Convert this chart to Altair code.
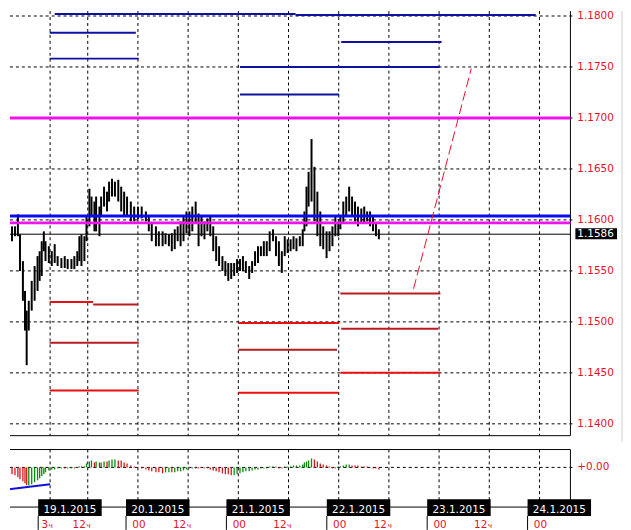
import altair as alt
import pandas as pd

# ---- data (time in hours relative to 20.1.2015 00:00) ----
bar_t = [-32.5, -31.8, -31.3, -30.8, -30.1, -29.4, -28.7, -28.2, -27.5, -27.0,
         -26.6, -26.1, -25.4, -24.7, -24.0, -23.5, -23.0, -22.5, -22.1, -21.3,
         -20.6, -19.9, -19.2, -18.3, -17.5, -16.8, -15.9, -15.2, -14.5, -14.0,
         -13.5, -12.8, -12.3, -11.6, -11.1, -10.4, -10.0, -9.2, -8.8, -8.1,
         -7.4, -6.9, -6.2, -5.5, -4.7, -4.0, -3.3, -2.6, -1.7, -0.9,
         0.0, 0.9, 1.9, 2.6, 3.3, 4.3, 5.0, 5.9, 6.6, 7.4,
         8.1, 8.8, 9.5, 10.2, 10.9, 11.6, 12.3, 13.0, 13.8, 14.5,
         15.2, 15.9, 16.6, 17.3, 18.0, 18.7, 19.4, 20.2, 20.9, 21.6,
         22.3, 23.0, 23.7, 24.4, 25.1, 25.8, 26.6, 27.3, 28.0, 28.7,
         29.4, 30.1, 30.8, 31.5, 32.3, 33.0, 33.7, 34.4, 35.1, 35.8,
         36.5, 37.2, 37.9, 38.7, 39.4, 39.8, 40.3, 40.8, 41.5, 42.2,
         42.9, 43.6, 44.3, 45.1, 45.8, 46.5, 47.2, 47.9, 48.4, 49.1,
         49.8, 50.5, 51.2, 51.9, 52.6, 53.4, 54.1, 54.8, 55.5, 56.2,
         56.9, 57.6]
bar_hi = [1.16375, 1.16355, 1.16326, 1.16180, 1.15937, 1.15937, 1.16054, 1.15859, 1.15596, 1.15304,
          1.15110, 1.15207, 1.15402, 1.15548, 1.15645, 1.15693, 1.15791, 1.15888, 1.15791, 1.15742,
          1.15693, 1.15762, 1.15645, 1.15625, 1.15645, 1.15616, 1.15616, 1.15645, 1.15693, 1.15840,
          1.15859, 1.15840, 1.16034, 1.16306, 1.16229, 1.16180, 1.16229, 1.16131, 1.16229, 1.16326,
          1.16277, 1.16375, 1.16404, 1.16375, 1.16394, 1.16326, 1.16277, 1.16229, 1.16180, 1.16131,
          1.16131, 1.16131, 1.16083, 1.16034, 1.15966, 1.15937, 1.15888, 1.15888, 1.15869, 1.15859,
          1.15869, 1.15908, 1.15937, 1.15985, 1.16034, 1.16083, 1.16083, 1.16131, 1.16180, 1.16063,
          1.16034, 1.15985, 1.16015, 1.16034, 1.15937, 1.15840, 1.15742, 1.15645, 1.15596, 1.15577,
          1.15577, 1.15577, 1.15616, 1.15616, 1.15645, 1.15596, 1.15548, 1.15596, 1.15693, 1.15742,
          1.15742, 1.15791, 1.15791, 1.15888, 1.15908, 1.15840, 1.15791, 1.15693, 1.15840, 1.15810,
          1.15810, 1.15840, 1.15820, 1.15840, 1.15908, 1.16083, 1.16326, 1.16472, 1.16793, 1.16521,
          1.16277, 1.16083, 1.15937, 1.15888, 1.15888, 1.15937, 1.16034, 1.15966, 1.16034, 1.16180,
          1.16229, 1.16326, 1.16229, 1.16180, 1.16131, 1.16112, 1.16131, 1.16083, 1.16083, 1.16034,
          1.15966, 1.15908]
bar_lo = [1.16151, 1.16083, 1.16034, 1.15791, 1.15791, 1.15840, 1.15840, 1.15499, 1.15207, 1.14915,
          1.14575, 1.14915, 1.15110, 1.15207, 1.15304, 1.15402, 1.15450, 1.15693, 1.15596, 1.15577,
          1.15548, 1.15577, 1.15548, 1.15528, 1.15528, 1.15518, 1.15518, 1.15518, 1.15548, 1.15596,
          1.15548, 1.15596, 1.15791, 1.15937, 1.16034, 1.15888, 1.15888, 1.15840, 1.16034, 1.16131,
          1.16083, 1.16180, 1.16229, 1.16229, 1.16180, 1.16083, 1.16034, 1.16034, 1.15985, 1.15985,
          1.16005, 1.16015, 1.15985, 1.15888, 1.15791, 1.15742, 1.15742, 1.15742, 1.15762, 1.15742,
          1.15693, 1.15713, 1.15791, 1.15742, 1.15791, 1.15869, 1.15840, 1.15888, 1.15966, 1.15742,
          1.15840, 1.15810, 1.15888, 1.15840, 1.15693, 1.15596, 1.15548, 1.15499, 1.15450, 1.15402,
          1.15421, 1.15450, 1.15480, 1.15499, 1.15499, 1.15480, 1.15421, 1.15480, 1.15548, 1.15577,
          1.15645, 1.15645, 1.15645, 1.15693, 1.15791, 1.15645, 1.15548, 1.15480, 1.15645, 1.15674,
          1.15693, 1.15713, 1.15693, 1.15742, 1.15742, 1.15888, 1.15937, 1.16131, 1.16180, 1.15985,
          1.15840, 1.15742, 1.15713, 1.15625, 1.15693, 1.15742, 1.15840, 1.15840, 1.15908, 1.15966,
          1.16034, 1.16083, 1.16034, 1.15985, 1.15937, 1.15966, 1.15966, 1.15985, 1.15937, 1.15888,
          1.15840, 1.15810]
macd_hist = [-3, -4, -5, -6, -7, -8, -10, -12, -14, -16,
             -18, -18, -17, -15, -13, -11, -9, -7, -5, -3,
             -2, -2, -1, -1, -1, -1, -1, -1, 0.5, 1,
             1, 1, 4, 6, 7, 5, 6, 5, 5, 6,
             6, 7, 8, 8, 7, 7, 5, 4, 2, 1,
             0.5, -1, -2, -3, -4, -5, -5, -6, -5, -5,
             -5, -5, -4, -4, -3, -2, -1, -1, -1, -1,
             -0.5, -1, -1, -2, -3, -4, -5, -6, -7, -7,
             -8, -8, -7, -6, -5, -4, -4, -3, -2, -2,
             -1, -1, -1, 1, 1, 1, -1, -1, 1, 1,
             1, 2, 2, 2, 3, 5, 6, 7, 9, 8,
             6, 4, 3, 2, 1, -1, -1, 1, 1, 2,
             3, 3, 2, 2, 2, 1, 1, 1, 0.5, -1,
             -1, -2]
macd_rising = [0, 0, 0, 0, 0, 0, 0, 0, 0, 0,
               0, 1, 1, 1, 1, 1, 1, 1, 1, 1,
               1, 1, 1, 1, 0, 1, 1, 0, 1, 1,
               1, 1, 1, 1, 1, 0, 1, 0, 1, 1,
               0, 1, 1, 1, 0, 0, 0, 0, 0, 0,
               0, 0, 0, 0, 0, 0, 0, 0, 1, 1,
               0, 1, 1, 1, 1, 1, 1, 1, 0, 0,
               0, 0, 0, 0, 0, 0, 0, 0, 0, 0,
               0, 1, 1, 1, 1, 1, 1, 1, 1, 1,
               1, 1, 1, 1, 1, 0, 0, 0, 1, 1,
               1, 1, 1, 1, 1, 1, 1, 1, 1, 0,
               0, 0, 0, 0, 0, 0, 0, 1, 1, 1,
               1, 1, 0, 0, 0, 0, 0, 0, 0, 0,
               0, 0]
sig_t = [-32.5, -21.0]
sig_v = [-23, -17]

full_p = [1.17000, 1.15971, 1.16039]
full_kind = ["magenta", "magenta", "blue"]

seg_t0 = [-19.9, 37.7, -21.1, -21.1, 24.4, 24.4, 48.6,
          -21.1, -10.7, -21.1, -21.1, 24.0, 24.0, 24.0, 48.4, 48.6, 48.4]
seg_t1 = [37.7, 95.1, -0.5, 0.2, 72.1, 48.1, 72.6,
          -10.7, 0.0, 0.2, 0.2, 48.1, 47.6, 47.9, 72.3, 71.8, 72.3]
seg_p = [1.18019, 1.18010, 1.17835, 1.17582, 1.17500, 1.17231, 1.17746,
         1.15195, 1.15170, 1.14796, 1.14328, 1.14990, 1.14727, 1.14305, 1.15279, 1.14932, 1.14500]
seg_kind = ["navy"] * 7 + ["red", "darkred", "darkred", "red", "red", "darkred", "red",
                           "darkred", "darkred", "red"]

trend_t = [65.9, 79.7]
trend_p = [1.15325, 1.17484]
last_price = 1.1586

grid_t = [-21, -12, 0, 12, 24, 36, 48, 60, 72, 84, 96]
price_ticks = [1.140, 1.145, 1.150, 1.155, 1.160, 1.165, 1.170, 1.175, 1.180]
date_t = [-21, 0, 24, 48, 72, 96]
date_lab = ["19.1.2015", "20.1.2015", "21.1.2015", "22.1.2015", "23.1.2015", "24.1.2015"]
hour_num = ["3", "12", "00", "12", "00", "12", "00", "12", "00", "12", "00"]
hour_suf = ["ч", "ч", "", "ч", "", "ч", "", "ч", "", "ч", ""]

# ---- styles ----
FONT = "DejaVu Sans"
RED = "#e8102a"
W = 565
H = 428
SH = 58
T0 = -30.59
xs = alt.Scale(domain=[T0, 103.4], nice=False, zero=False)
ys = alt.Scale(domain=[1.13884, 1.18048], nice=False, zero=False)
ss = alt.Scale(domain=[-40, 18], nice=False, zero=False)

bars = pd.DataFrame({"t": bar_t, "hi": bar_hi, "lo": bar_lo})
hist = pd.DataFrame({"t": bar_t, "v": macd_hist, "rise": macd_rising})
sig = pd.DataFrame({"t": sig_t, "v": sig_v})
full = pd.DataFrame({"p": full_p, "kind": full_kind})
segs = pd.DataFrame({"t0": seg_t0, "t1": seg_t1, "p": seg_p, "kind": seg_kind})
trend = pd.DataFrame({"t": trend_t, "p": trend_p})
last = pd.DataFrame({"p": [last_price], "lab": [f"{last_price:.4f}"]})
dates = pd.DataFrame({"t": date_t, "lab": date_lab})
hours = pd.DataFrame({"t": grid_t, "num": hour_num, "suf": hour_suf})
vgrid = pd.DataFrame({"t": grid_t})
hgrid = pd.DataFrame({"p": price_ticks, "lab": [f"{p:.4f}" for p in price_ticks]})
zero = pd.DataFrame({"v": [0], "lab": ["+0.00"]})

X = lambda f: alt.X(f, scale=xs, axis=None)
Y = lambda f: alt.Y(f, scale=ys, axis=None)
S = lambda f: alt.Y(f, scale=ss, axis=None)

kind_scale = alt.Scale(domain=["navy", "red", "darkred", "magenta", "blue"],
                       range=["#1010a0", "#e81010", "#b81c22", "#f010f0", "#0a0af0"])

# ---- main price panel ----
vg = alt.Chart(vgrid).mark_rule(color="black", strokeDash=[3, 3], strokeWidth=1).encode(
    x=X("t:Q"))
hg = alt.Chart(hgrid).mark_rule(color="black", strokeDash=[3, 3], strokeWidth=1).encode(
    y=Y("p:Q"), x=alt.value(0), x2=alt.value(W + 4))
hlab = alt.Chart(hgrid).mark_text(color=RED, font=FONT, fontSize=10.5, align="left",
                                  baseline="middle").encode(
    y=Y("p:Q"), x=alt.value(W + 7), text="lab:N")
border_r = alt.Chart(last).mark_rule(color="black").encode(
    x=alt.value(W), y=alt.value(0), y2=alt.value(H))
border_b = alt.Chart(last).mark_rule(color="black").encode(
    y=alt.value(H), x=alt.value(0), x2=alt.value(W))

candles = alt.Chart(bars).transform_filter(f"datum.t >= {T0}").mark_rule(
    strokeWidth=2, color="black").encode(x=X("t:Q"), y=Y("hi:Q"), y2="lo:Q")
seg_layer = alt.Chart(segs).mark_rule(strokeWidth=2).encode(
    x=X("t0:Q"), x2="t1:Q", y=Y("p:Q"),
    color=alt.Color("kind:N", scale=kind_scale, legend=None))
full_layer = alt.Chart(full).mark_rule(strokeWidth=3).encode(
    y=Y("p:Q"), x=alt.value(0), x2=alt.value(W),
    color=alt.Color("kind:N", scale=kind_scale, legend=None))
last_line = alt.Chart(last).mark_rule(strokeWidth=1, color="black").encode(
    y=Y("p:Q"), x=alt.value(0), x2=alt.value(W))
trend_layer = alt.Chart(trend).mark_line(color=RED, strokeWidth=1,
                                         strokeDash=[10, 4]).encode(x=X("t:Q"), y=Y("p:Q"))
last_box = alt.Chart(last).mark_rect(color="black", yOffset=-6, y2Offset=5).encode(
    x=alt.value(W + 5), x2=alt.value(W + 47), y=Y("p:Q"), y2="p:Q")
last_txt = alt.Chart(last).mark_text(color="white", font=FONT, fontSize=10.5,
                                     align="left", baseline="middle").encode(
    x=alt.value(W + 7), y=Y("p:Q"), text="lab:N")
edge = alt.Chart(last).mark_rule(color="#cfcfcf").encode(
    x=alt.value(W + 52), y=alt.value(0), y2=alt.value(H + 6))

main = alt.layer(vg, hg, border_r, border_b, hlab, candles, seg_layer, full_layer,
                 last_line, trend_layer, last_box, last_txt, edge).properties(width=W, height=H)

# ---- indicator sub-panel ----
svg_ = alt.Chart(vgrid).mark_rule(color="black", strokeDash=[3, 3]).encode(
    x=X("t:Q"), y=alt.value(0), y2=alt.value(SH))
zline = alt.Chart(zero).mark_rule(color="black", strokeDash=[3, 3]).encode(
    y=S("v:Q"), x=alt.value(0), x2=alt.value(W + 4))
zlab = alt.Chart(zero).mark_text(color=RED, font=FONT, fontSize=10.5, align="left",
                                 baseline="middle").encode(
    y=S("v:Q"), x=alt.value(W + 7), text="lab:N")
s_top = alt.Chart(zero).mark_rule(color="black").encode(
    y=alt.value(0), x=alt.value(0), x2=alt.value(W))
s_bot = alt.Chart(zero).mark_rule(color="black").encode(
    y=alt.value(SH), x=alt.value(0), x2=alt.value(W))
s_right = alt.Chart(zero).mark_rule(color="black").encode(
    x=alt.value(W), y=alt.value(0), y2=alt.value(SH))

hist_up = alt.Chart(hist).transform_filter(f"datum.rise == 1 && datum.t >= {T0}").mark_rule(
    strokeWidth=1.3, color="#0a8a0a").encode(x=X("t:Q"), y=S("v:Q"), y2=alt.datum(0))
hist_dn = alt.Chart(hist).transform_filter(f"datum.rise == 0 && datum.t >= {T0}").mark_rule(
    strokeWidth=1.3, color="#d01818").encode(x=X("t:Q"), y=S("v:Q"), y2=alt.datum(0))
sig_layer = alt.Chart(sig).mark_line(color="#1010e0", strokeWidth=2, clip=True).encode(
    x=X("t:Q"), y=S("v:Q"))
date_box = alt.Chart(dates).mark_rect(color="black", xOffset=-12, x2Offset=52).encode(
    x=X("t:Q"), x2="t:Q", y=alt.value(50), y2=alt.value(67))
date_tick = alt.Chart(dates).mark_rule(color="black", xOffset=-12).encode(
    x=X("t:Q"), y=alt.value(67), y2=alt.value(81))
date_txt = alt.Chart(dates).mark_text(color="white", font=FONT, fontSize=10.5,
                                      align="center", baseline="alphabetic", dx=20).encode(
    x=X("t:Q"), y=alt.value(63.5), text="lab:N")
hour_a = alt.Chart(hours).transform_filter("datum.suf != ''").mark_text(
    color=RED, font=FONT, fontSize=10.5, align="right", baseline="alphabetic", dx=-2).encode(
    x=X("t:Q"), y=alt.value(79), text="num:N")
hour_s = alt.Chart(hours).transform_filter("datum.suf != ''").mark_text(
    color=RED, font=FONT, fontSize=7.5, align="left", baseline="alphabetic", dx=-1.5).encode(
    x=X("t:Q"), y=alt.value(79), text="suf:N")
hour_b = alt.Chart(hours).transform_filter("datum.suf == ''").mark_text(
    color=RED, font=FONT, fontSize=10.5, align="center", baseline="alphabetic", dx=1).encode(
    x=X("t:Q"), y=alt.value(79), text="num:N")

sub = alt.layer(svg_, zline, zlab, s_top, s_bot, s_right, hist_up, hist_dn, sig_layer,
                date_box, date_tick, date_txt, hour_a, hour_s, hour_b
                ).properties(width=W, height=SH)

chart = alt.vconcat(main, sub, spacing=6).properties(
    padding=0, autosize=alt.AutoSizeParams(type="pad")
).configure(font=FONT).configure_view(stroke=None)

chart.save("out.html", embed_options={"renderer": "svg", "actions": False})
